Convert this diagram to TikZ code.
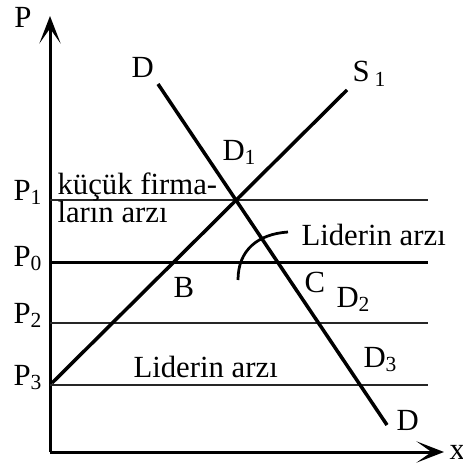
\documentclass[tikz,border=0pt]{standalone}
\usepackage{fontspec}
\setmainfont{Liberation Serif}
\usetikzlibrary{arrows.meta}

\tikzset{
  axis/.style={line width=1.2pt, -{Stealth[length=11pt,width=8.5pt,inset=6pt]}},
  curve/.style={line width=1.4pt},
  priceline/.style={line width=0.8pt, black!85},
  label/.style={font=\fontsize{12.3}{14}\selectfont, inner sep=0pt, anchor=base west}
}

\begin{document}
\begin{tikzpicture}[x=0.4pt, y=-0.4pt]
  \useasboundingbox (0,0) rectangle (462,466);
  % eksenler
  \coordinate (o) at (50,452);
  \coordinate (ptop) at (50,16);
  \coordinate (xend) at (444,452);
  \draw[axis] (o) -- (ptop);
  \draw[axis] (o) -- (xend);
  \node[label] (plab) at (14,28) {P};
  \node[label] (xlab) at (449,459) {x};

  % fiyat seviyeleri
  \foreach \y/\k in {200/1,323/2,385/3}{
    \coordinate (p\k a) at (50,\y);
    \coordinate (p\k b) at (428,\y);
    \draw[priceline] (p\k a) -- (p\k b);
    \node[label] (plab\k) at (13,\y) {P\textsubscript{\k}};
  }
  \coordinate (p0a) at (50,262);
  \coordinate (p0b) at (428,262);
  \draw[line width=1.2pt] (p0a) -- (p0b);
  \node[label] (plab0) at (13,266) {P\textsubscript{0}};

  % arz ve talep
  \coordinate (s0) at (52,383);
  \coordinate (s1) at (347,90);
  \coordinate (d0) at (158,84);
  \coordinate (d1) at (387,425);
  \draw[curve] (s0) -- (s1);
  \draw[curve] (d0) -- (d1);
  \node[label] (slab) at (352,82) {S\,\textsubscript{1}};
  \node[label] (dtop) at (131,78) {D};
  \node[label] (dbot) at (396,430) {D};

  % etiketler
  \node[label] (kucuk1) at (57,194) {küçük firma-};
  \node[label] (kucuk2) at (57,222) {ların arzı};
  \node[label] (dbir) at (222,160) {D\textsubscript{1}};
  \node[label] (lider1) at (301,245) {Liderin arzı};
  \node[label] (blab) at (173,297) {B};
  \node[label] (clab) at (304,292) {C};
  \node[label] (diki) at (336,307) {D\textsubscript{2}};
  \node[label] (duc) at (363,367) {D\textsubscript{3}};
  \node[label] (lider2) at (133,377) {Liderin arzı};

  % yay
  \coordinate (y0) at (238,280);
  \coordinate (y1) at (288,232);
  \draw[line width=1.1pt] (y0) .. controls (238,250) and (258,234) .. (y1);
\end{tikzpicture}
\end{document}
